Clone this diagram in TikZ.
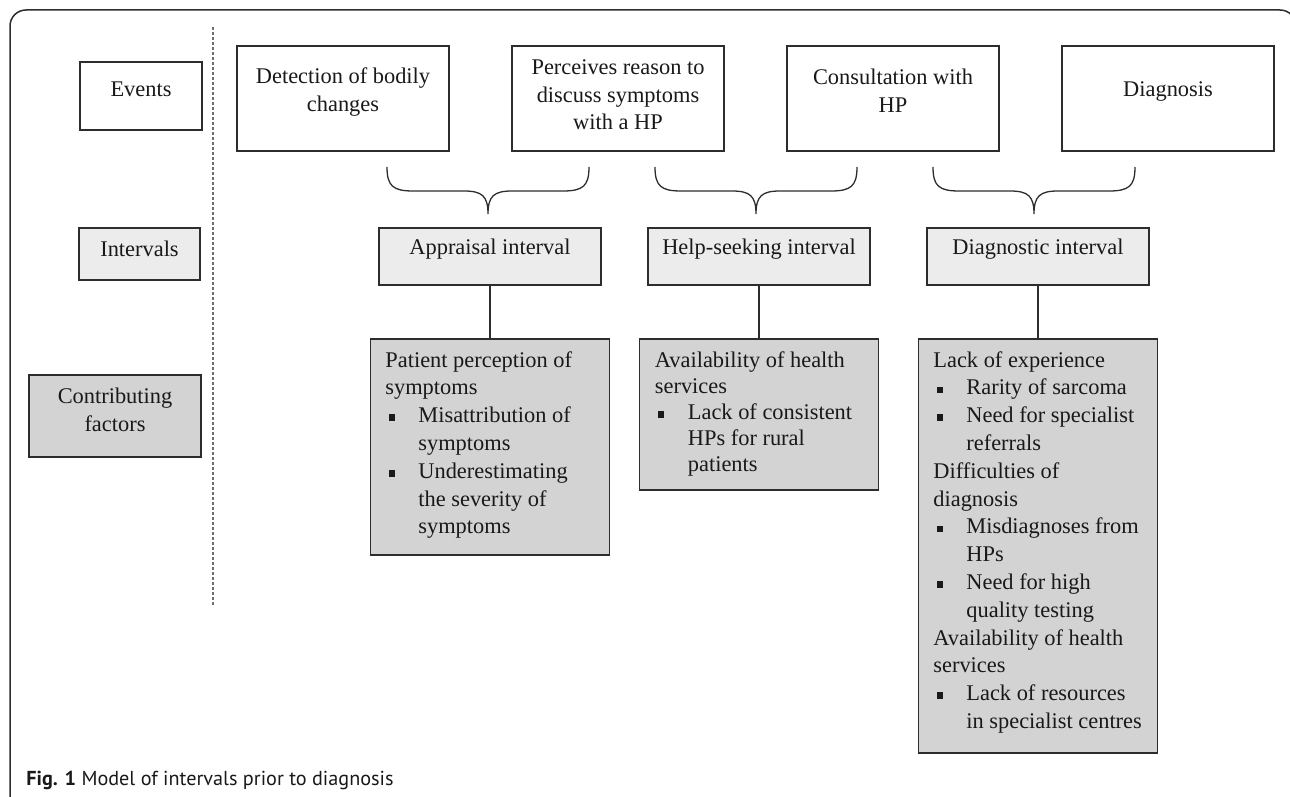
\documentclass[tikz,border=0pt]{standalone}
\usepackage{fontspec}
\setmainfont{Liberation Serif}
\newfontfamily\capfont{PT Sans}
\definecolor{ivfill}{RGB}{235,236,235}
\definecolor{cffill}{RGB}{210,211,210}
\definecolor{edge}{RGB}{45,45,45}
\definecolor{ink}{RGB}{25,25,25}
\definecolor{dashgrey}{RGB}{110,110,110}
\newcommand\bul{\makebox[16.5pt][l]{\hspace{1.6pt}\rule[0.8pt]{3pt}{3.4pt}}}
\newcommand\ind{\hspace*{16.5pt}}
\begin{document}
\begin{tikzpicture}[x=0.5pt,y=-0.5pt,
  box/.style={draw=edge, line width=0.65pt, inner sep=0pt},
  evbox/.style={box, fill=white, minimum width=106pt, minimum height=52.5pt},
  ivbox/.style={box, fill=ivfill, minimum width=111pt, minimum height=28.5pt},
  cfbox/.style={box, fill=cffill, minimum width=119.5pt},
  lbl/.style={font=\fontsize{11.2pt}{14pt}\selectfont, align=center, inner sep=0pt, text=ink},
  flist/.style={font=\fontsize{11.2pt}{13.9pt}\selectfont, align=left, inner sep=0pt, text=ink, anchor=north west},
  brc/.style={draw=edge, line width=0.65pt},
  conn/.style={draw=edge, line width=0.65pt},
]
\useasboundingbox (0,0) rectangle (1290,797);
\clip (0,0) rectangle (1290,797);
% outer frame
\draw[edge, line width=0.75pt, rounded corners=8pt] (10,10) rectangle (1296,812);
% dashed separator
\coordinate (dtop) at (213,27);
\coordinate (dbot) at (213,607);
\draw[dashgrey, line width=0.6pt, dash pattern=on 1.5pt off 1pt] (dtop) -- (dbot);

% row labels
\node[box, fill=white, minimum width=61pt, minimum height=34pt] (events) at (141,96) {};
\node[lbl] (eventsT) at (141,89.5) {Events};
\node[box, fill=ivfill, minimum width=60.5pt, minimum height=26pt] (intervals) at (139.5,254) {};
\node[lbl] (intervalsT) at (139.5,249) {Intervals};
\node[box, fill=cffill, minimum width=86pt, minimum height=41pt] (contrib) at (115,416) {};
\node[lbl] (contribT) at (115,409.5) {Contributing\\factors};

% events
\node[evbox] (detect) at (343,98.5) {};
\node[lbl] (detectT) at (343,92.5) {Detection of bodily\\changes};
\node[evbox] (perceive) at (618,98.5) {};
\node[lbl, font=\fontsize{11.2pt}{13.8pt}\selectfont] (perceiveT) at (618,95) {Perceives reason to\\discuss symptoms\\with a HP};
\node[evbox] (consult) at (893,98.5) {};
\node[lbl] (consultT) at (893,90.5) {Consultation with\\HP};
\node[evbox] (diag) at (1168,98.5) {};
\node[lbl] (diagT) at (1168,91.5) {Diagnosis};

% braces
\draw[brc] (387,167) .. controls (387,186) and (393,191) .. (413,191) -- (464,191)
  .. controls (482,191) and (488,196) .. (488,214)
  .. controls (488,196) and (494,191) .. (512,191) -- (563,191)
  .. controls (583,191) and (589,186) .. (589,167);
\draw[brc] (655,167) .. controls (655,186) and (661,191) .. (681,191) -- (732,191)
  .. controls (750,191) and (756,196) .. (756,214)
  .. controls (756,196) and (762,191) .. (780,191) -- (831,191)
  .. controls (851,191) and (857,186) .. (857,167);
\draw[brc] (933,167) .. controls (933,186) and (939,191) .. (959,191) -- (1010,191)
  .. controls (1028,191) and (1034,196) .. (1034,214)
  .. controls (1034,196) and (1040,191) .. (1058,191) -- (1109,191)
  .. controls (1129,191) and (1135,186) .. (1135,167);

% intervals
\node[ivbox] (appr) at (490,256.5) {};
\node[lbl] (apprT) at (490,249) {Appraisal interval};
\node[ivbox] (help) at (759,256.5) {};
\node[lbl] (helpT) at (759,249) {Help-seeking interval};
\node[ivbox] (diagi) at (1038,256.5) {};
\node[lbl] (diagiT) at (1038,249) {Diagnostic interval};

% contributing factor boxes
\node[cfbox, minimum height=108pt] (pf) at (490,447) {};
\node[cfbox, minimum height=75.5pt] (hf) at (759,414.5) {};
\node[cfbox, minimum height=207pt] (df) at (1038,546) {};

\node[flist] (pfT) at (385,351) {Patient perception of\\symptoms\\
\bul Misattribution of\\\ind symptoms\\
\bul Underestimating\\\ind the severity of\\\ind symptoms};
\node[flist, font=\fontsize{11.2pt}{13pt}\selectfont] (hfT) at (654.5,351) {Availability of health\\services\\
\bul Lack of consistent\\\ind HPs for rural\\\ind patients};
\node[flist] (dfT) at (933,351) {Lack of experience\\
\bul Rarity of sarcoma\\
\bul Need for specialist\\\ind referrals\\
Difficulties of\\diagnosis\\
\bul Misdiagnoses from\\\ind HPs\\
\bul Need for high\\\ind quality testing\\
Availability of health\\services\\
\bul Lack of resources\\\ind in specialist centres};

% connectors
\draw[conn] (appr.south) -- (pf.north);
\draw[conn] (help.south) -- (hf.north);
\draw[conn] (diagi.south) -- (df.north);

% caption
\node[anchor=base west, inner sep=0pt, text=ink] (caption) at (26,785)
  {\capfont\fontsize{10.1pt}{12pt}\selectfont\textbf{Fig. 1} Model of intervals prior to diagnosis};
\end{tikzpicture}
\end{document}
